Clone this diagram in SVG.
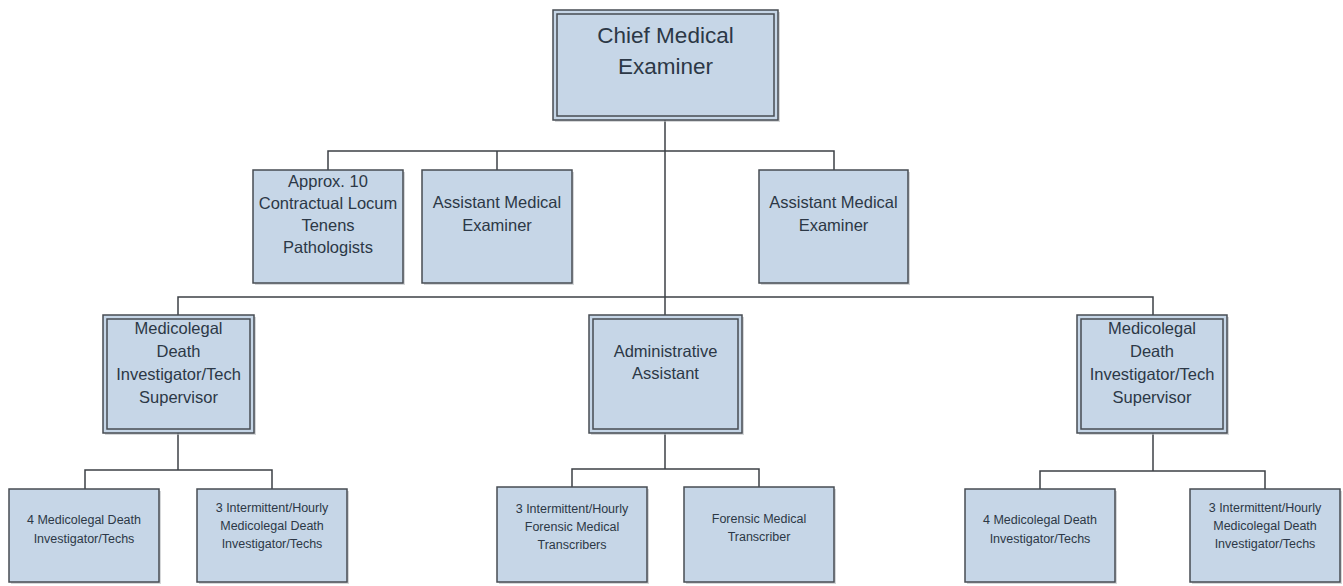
<svg xmlns="http://www.w3.org/2000/svg" width="1343" height="586" viewBox="0 0 1343 586">
<style>
.box{fill:#c6d6e7;stroke:#474c53;stroke-width:1.5}
.in{fill:none;stroke:#474c53;stroke-width:1.5}
.sh{fill:#b9bcc0;opacity:0.6}
.t{font-family:"Liberation Sans",Arial,sans-serif;fill:#2c3846;text-anchor:middle}
.big{font-size:22.5px}
.mid{font-size:16.5px}
.sm{font-size:12.5px}
.c{fill:none;stroke:#3c4046;stroke-width:1.5}
</style>
<rect width="1343" height="586" fill="#ffffff"/>
<g id="connectors">
<path class="c" d="M665,120 V297"/>
<path class="c" d="M328,170 V151 H834 V170"/>
<path class="c" d="M497,151 V170"/>
<path class="c" d="M178,315 V297 H1153 V315"/>
<path class="c" d="M665,297 V315"/>
<path class="c" d="M178,433 V470"/>
<path class="c" d="M85,489 V470 H272 V489"/>
<path class="c" d="M665,433 V469"/>
<path class="c" d="M572,487 V469 H759 V487"/>
<path class="c" d="M1153,433 V471"/>
<path class="c" d="M1040,489 V471 H1265 V489"/>
</g>
<g id="chief">
<rect class="sh" x="555" y="12" width="225" height="110"/>
<rect class="box" x="553" y="10" width="225" height="110"/>
<rect class="in" x="557" y="14" width="217" height="102"/>
<text class="t big" x="665.5" y="43">Chief Medical</text>
<text class="t big" x="665.5" y="74">Examiner</text>
</g>
<g id="locum">
<rect class="sh" x="255" y="172" width="150" height="113"/>
<rect class="box" x="253" y="170" width="150" height="113"/>
<text class="t mid" x="328" y="187">Approx. 10</text>
<text class="t mid" x="328" y="209">Contractual Locum</text>
<text class="t mid" x="328" y="231">Tenens</text>
<text class="t mid" x="328" y="253">Pathologists</text>
</g>
<g id="ame1">
<rect class="sh" x="424" y="172" width="150" height="113"/>
<rect class="box" x="422" y="170" width="150" height="113"/>
<text class="t mid" x="497" y="208">Assistant Medical</text>
<text class="t mid" x="497" y="231">Examiner</text>
</g>
<g id="ame2">
<rect class="sh" x="761" y="172" width="149" height="113"/>
<rect class="box" x="759" y="170" width="149" height="113"/>
<text class="t mid" x="833.5" y="208">Assistant Medical</text>
<text class="t mid" x="833.5" y="231">Examiner</text>
</g>
<g id="sup-left">
<rect class="sh" x="105" y="317" width="151" height="118"/>
<rect class="box" x="103" y="315" width="151" height="118"/>
<rect class="in" x="107" y="319" width="143" height="110"/>
<text class="t mid" x="178.5" y="334">Medicolegal</text>
<text class="t mid" x="178.5" y="357">Death</text>
<text class="t mid" x="178.5" y="380">Investigator/Tech</text>
<text class="t mid" x="178.5" y="403">Supervisor</text>
</g>
<g id="admin">
<rect class="sh" x="591" y="317" width="153" height="118"/>
<rect class="box" x="589" y="315" width="153" height="118"/>
<rect class="in" x="593" y="319" width="145" height="110"/>
<text class="t mid" x="665.5" y="357">Administrative</text>
<text class="t mid" x="665.5" y="379">Assistant</text>
</g>
<g id="sup-right">
<rect class="sh" x="1079" y="317" width="150" height="118"/>
<rect class="box" x="1077" y="315" width="150" height="118"/>
<rect class="in" x="1081" y="319" width="142" height="110"/>
<text class="t mid" x="1152" y="334">Medicolegal</text>
<text class="t mid" x="1152" y="357">Death</text>
<text class="t mid" x="1152" y="380">Investigator/Tech</text>
<text class="t mid" x="1152" y="403">Supervisor</text>
</g>
<g id="mdi-left">
<rect class="sh" x="11" y="491" width="150" height="93"/>
<rect class="box" x="9" y="489" width="150" height="93"/>
<text class="t sm" x="84" y="524">4 Medicolegal Death</text>
<text class="t sm" x="84" y="543">Investigator/Techs</text>
</g>
<g id="hourly-left">
<rect class="sh" x="199" y="491" width="150" height="93"/>
<rect class="box" x="197" y="489" width="150" height="93"/>
<text class="t sm" x="272" y="512">3 Intermittent/Hourly</text>
<text class="t sm" x="272" y="530">Medicolegal Death</text>
<text class="t sm" x="272" y="548">Investigator/Techs</text>
</g>
<g id="transcribers">
<rect class="sh" x="499" y="489" width="150" height="95"/>
<rect class="box" x="497" y="487" width="150" height="95"/>
<text class="t sm" x="572" y="513">3 Intermittent/Hourly</text>
<text class="t sm" x="572" y="531">Forensic Medical</text>
<text class="t sm" x="572" y="549">Transcribers</text>
</g>
<g id="transcriber">
<rect class="sh" x="686" y="489" width="150" height="95"/>
<rect class="box" x="684" y="487" width="150" height="95"/>
<text class="t sm" x="759" y="523">Forensic Medical</text>
<text class="t sm" x="759" y="541">Transcriber</text>
</g>
<g id="mdi-right">
<rect class="sh" x="967" y="491" width="150" height="93"/>
<rect class="box" x="965" y="489" width="150" height="93"/>
<text class="t sm" x="1040" y="524">4 Medicolegal Death</text>
<text class="t sm" x="1040" y="543">Investigator/Techs</text>
</g>
<g id="hourly-right">
<rect class="sh" x="1192" y="491" width="150" height="93"/>
<rect class="box" x="1190" y="489" width="150" height="93"/>
<text class="t sm" x="1265" y="512">3 Intermittent/Hourly</text>
<text class="t sm" x="1265" y="530">Medicolegal Death</text>
<text class="t sm" x="1265" y="548">Investigator/Techs</text>
</g>
</svg>
